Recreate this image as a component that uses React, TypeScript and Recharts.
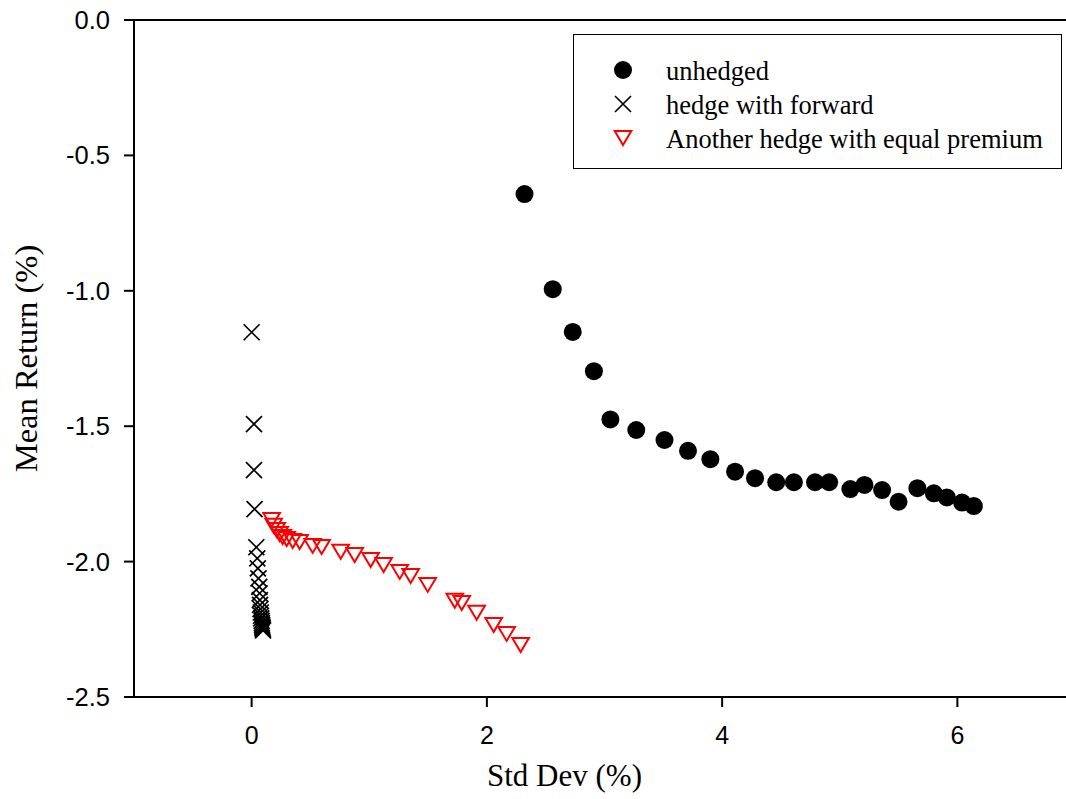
import React from 'react';
import { ScatterChart, Scatter, XAxis, YAxis, ReferenceLine, Legend } from 'recharts';

// std dev (%) / mean return (%) pairs
const unhedgedStd = [2.32, 2.56, 2.73, 2.91, 3.05, 3.27, 3.51, 3.71, 3.9, 4.11, 4.28, 4.46, 4.61, 4.79, 4.91, 5.09, 5.21, 5.36, 5.5, 5.66, 5.8, 5.91, 6.04, 6.14];
const unhedgedMean = [-0.643, -0.994, -1.152, -1.297, -1.475, -1.514, -1.551, -1.591, -1.622, -1.668, -1.692, -1.707, -1.707, -1.707, -1.707, -1.732, -1.717, -1.736, -1.779, -1.729, -1.748, -1.763, -1.782, -1.795];

const forwardStd = [0.0, 0.02, 0.02, 0.025, 0.04, 0.048, 0.053, 0.058, 0.065, 0.068, 0.07, 0.072, 0.075, 0.078, 0.08, 0.082, 0.085, 0.087, 0.089, 0.091, 0.093, 0.095, 0.097];
const forwardMean = [-1.153, -1.492, -1.662, -1.806, -1.947, -1.988, -2.025, -2.062, -2.093, -2.117, -2.142, -2.16, -2.175, -2.188, -2.2, -2.21, -2.219, -2.227, -2.234, -2.24, -2.245, -2.25, -2.254];

const premiumStd = [0.17, 0.187, 0.213, 0.238, 0.264, 0.298, 0.349, 0.408, 0.519, 0.595, 0.757, 0.876, 1.012, 1.122, 1.259, 1.352, 1.497, 1.727, 1.786, 1.913, 2.058, 2.168, 2.287];
const premiumMean = [-1.846, -1.868, -1.883, -1.898, -1.909, -1.917, -1.924, -1.928, -1.942, -1.946, -1.964, -1.976, -1.994, -2.013, -2.038, -2.053, -2.086, -2.145, -2.153, -2.189, -2.234, -2.267, -2.308];

const xTicks = [0, 2, 4, 6];
const yTicks = [0, -0.5, -1, -1.5, -2, -2.5];
const seriesNames = ['unhedged', 'hedge with forward', 'Another hedge with equal premium'];

const zip = (xs: number[], ys: number[]) => xs.map((x, i) => ({ x, y: ys[i] }));

const SANS = '"Liberation Sans", Arial, sans-serif';
const SERIF = '"Liberation Serif", "Times New Roman", serif';

const Dot = (p: any) => <circle cx={p.cx} cy={p.cy} r={9} fill="#000" />;
const Cross = (p: any) => (
  <path d={`M${p.cx - 8},${p.cy - 8}L${p.cx + 8},${p.cy + 8}M${p.cx + 8},${p.cy - 8}L${p.cx - 8},${p.cy + 8}`} stroke="#000" strokeWidth={1.7} fill="none" />
);
const TriDown = (p: any) => (
  <path d={`M${p.cx - 8.3},${p.cy - 7}L${p.cx + 8.3},${p.cy - 7}L${p.cx},${p.cy + 7}Z`} stroke="#ff0000" strokeWidth={2} fill="none" />
);

const icons = [Dot, Cross, TriDown];

function LegendBox() {
  return (
    <div style={{ width: 489, height: 135, border: '1.5px solid #000', background: '#fff', boxSizing: 'border-box', paddingTop: 19 }}>
      {seriesNames.map((name, i) => {
        const Icon = icons[i];
        return (
          <div key={name} style={{ display: 'flex', alignItems: 'center', height: 34 }}>
            <svg width={92} height={30} style={{ flex: 'none' }}>
              <Icon cx={49} cy={14} />
            </svg>
            <span style={{ fontFamily: SERIF, fontSize: 26.5, color: '#000', lineHeight: '30px', whiteSpace: 'nowrap' }}>{name}</span>
          </div>
        );
      })}
    </div>
  );
}

export default function App() {
  return (
    <div style={{ position: 'fixed', left: 0, top: 0, width: 1066, height: 799, overflow: 'hidden', background: '#fff' }}>
      <ScatterChart width={1080} height={799} margin={{ top: 20, right: 5, left: 0, bottom: 0 }}>
        <XAxis
          type="number"
          dataKey="x"
          domain={[-1, 7]}
          ticks={xTicks}
          allowDataOverflow
          height={102}
          stroke="#000"
          strokeWidth={2}
          tickSize={10}
          tickMargin={19}
          tick={{ fill: '#000', fontSize: 25, fontFamily: SANS }}
          label={{ value: 'Std Dev (%)', position: 'insideBottom', offset: 13, dx: -40, style: { fontFamily: SERIF, fontSize: 31, fill: '#000' } }}
        />
        <YAxis
          type="number"
          dataKey="y"
          domain={[-2.5, 0]}
          ticks={yTicks}
          allowDataOverflow
          width={134}
          stroke="#000"
          strokeWidth={2}
          tickSize={10}
          tickMargin={14}
          tickFormatter={(v: number) => v.toFixed(1)}
          tick={{ fill: '#000', fontSize: 25.5, fontFamily: SANS }}
          label={{ value: 'Mean Return (%)', angle: -90, position: 'insideLeft', offset: 25, style: { textAnchor: 'middle', fontFamily: SERIF, fontSize: 32.5, fill: '#000' } }}
        />
        <ReferenceLine y={0} stroke="#000" strokeWidth={2} />
        <Legend
          layout="vertical"
          align="center"
          verticalAlign="middle"
          content={() => <LegendBox />}
          wrapperStyle={{ left: 573, top: 34, width: 489, height: 135 }}
        />
        <Scatter name={seriesNames[0]} data={zip(unhedgedStd, unhedgedMean)} shape={Dot} isAnimationActive={false} />
        <Scatter name={seriesNames[1]} data={zip(forwardStd, forwardMean)} shape={Cross} isAnimationActive={false} />
        <Scatter name={seriesNames[2]} data={zip(premiumStd, premiumMean)} shape={TriDown} isAnimationActive={false} />
      </ScatterChart>
    </div>
  );
}
